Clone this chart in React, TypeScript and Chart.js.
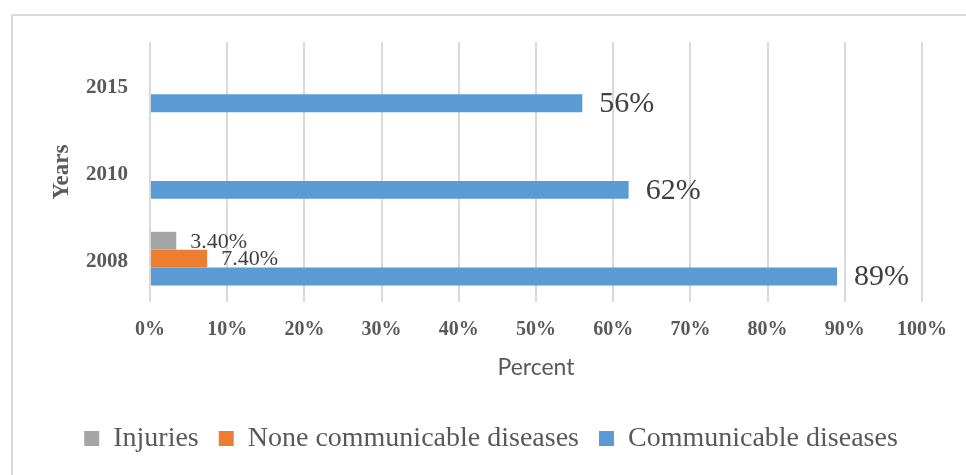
import React, { useEffect, useRef } from 'react';
import { Chart, registerables } from 'chart.js';

Chart.register(...registerables);

// ---- data ----
const years = ['2015', '2010', '2008'];
const injuries: (number | null)[] = [null, null, 3.4];
const nonCommunicable: (number | null)[] = [null, null, 7.4];
const communicable: (number | null)[] = [56, 62, 89];
const injuryLabels = ['', '', '3.40%'];
const nonCommunicableLabels = ['', '', '7.40%'];
const communicableLabels = ['56%', '62%', '89%'];
const seriesNames = ['Injuries', 'None communicable diseases', 'Communicable diseases'];
const xMin = 0;
const xMax = 100;
const xStep = 10;

const colors = ['#a5a5a5', '#ed7d31', '#5b9bd5'];
const serif = '"Liberation Serif", "Times New Roman", serif';

const framePlugin = {
  id: 'frame',
  beforeDraw(chart: any) {
    const ctx = chart.ctx;
    ctx.save();
    ctx.fillStyle = '#ffffff';
    ctx.fillRect(0, 0, chart.width, chart.height);
    ctx.strokeStyle = '#d9d9d9';
    ctx.lineWidth = 2;
    ctx.strokeRect(12, 15, chart.width + 50, chart.height + 50);
    ctx.restore();
  },
};

const valueLabelPlugin = {
  id: 'valueLabels',
  afterDatasetsDraw(chart: any) {
    const ctx = chart.ctx;
    const allLabels = [injuryLabels, nonCommunicableLabels, communicableLabels];
    ctx.save();
    ctx.textAlign = 'left';
    ctx.textBaseline = 'middle';
    ctx.fillStyle = '#404040';
    chart.data.datasets.forEach((ds: any, di: number) => {
      const meta = chart.getDatasetMeta(di);
      const big = di === 2;
      ctx.font = (big ? '30px ' : '22px ') + serif;
      const offset = big ? 17 : 14;
      meta.data.forEach((bar: any, i: number) => {
        const txt = allLabels[di][i];
        if (!txt || ds.data[i] == null) return;
        ctx.fillText(txt, bar.x + offset, bar.y + 1);
      });
    });
    ctx.restore();
  },
};

export default function App() {
  const canvasRef = useRef<HTMLCanvasElement | null>(null);

  useEffect(() => {
    if (!canvasRef.current) return;
    const chart = new Chart(canvasRef.current, {
      type: 'bar',
      data: {
        labels: years,
        datasets: [
          { label: seriesNames[0], data: injuries, backgroundColor: colors[0] },
          { label: seriesNames[1], data: nonCommunicable, backgroundColor: colors[1] },
          { label: seriesNames[2], data: communicable, backgroundColor: colors[2] },
        ],
      },
      options: {
        indexAxis: 'y',
        responsive: false,
        animation: false,
        datasets: {
          bar: { barPercentage: 1, categoryPercentage: 0.62 },
        },
        layout: { padding: { top: 42, left: 60, right: 44, bottom: 12.5 } },
        plugins: {
          tooltip: { enabled: false },
          legend: {
            position: 'bottom',
            labels: {
              boxWidth: 15,
              boxHeight: 15,
              padding: 20,
              color: '#595959',
              font: { family: serif, size: 28 },
            },
          },
        },
        scales: {
          x: {
            min: xMin,
            max: xMax,
            border: { display: false },
            grid: { color: '#d9d9d9', lineWidth: 2, drawTicks: false },
            ticks: {
              stepSize: xStep,
              padding: 16,
              color: '#595959',
              font: { family: serif, size: 20, weight: 'bold' },
              callback: (v: any) => v + '%',
            },
            title: {
              display: true,
              text: 'Percent',
              color: '#595959',
              font: { family: 'Lato, "Open Sans", sans-serif', size: 23 },
              padding: { top: 0, bottom: 22.7 },
            },
            afterFit: (scale: any) => {
              scale.height = 102.5;
            },
          },
          y: {
            border: { display: false },
            grid: { display: false },
            ticks: {
              padding: 14,
              labelOffset: 2.5,
              color: '#595959',
              font: { family: serif, size: 21, weight: 'bold' },
            },
            title: {
              display: true,
              text: 'Years',
              color: '#595959',
              font: { family: serif, size: 23, weight: 'bold' },
              padding: { top: -12, bottom: 0 },
            },
            afterFit: (scale: any) => {
              scale.width = 90;
            },
          },
        },
      } as any,
      plugins: [framePlugin, valueLabelPlugin],
    });
    return () => chart.destroy();
  }, []);

  return (
    <div style={{ position: 'fixed', left: 0, top: 0, width: 966, height: 475 }}>
      <canvas ref={canvasRef} width={966} height={475} style={{ width: 966, height: 475 }} />
    </div>
  );
}
